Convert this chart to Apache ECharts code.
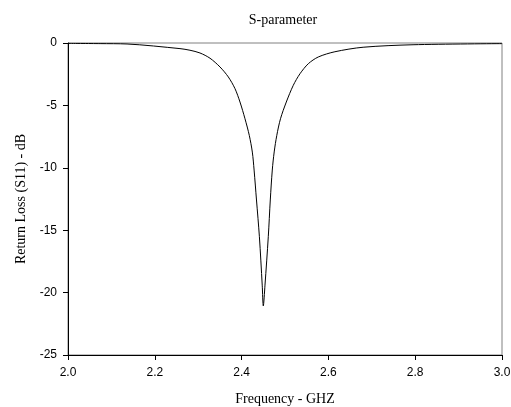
<!DOCTYPE html>
<html>
<head>
<meta charset="utf-8">
<script src="https://cdn.jsdelivr.net/npm/echarts@6/dist/echarts.min.js"></script>
<style>html,body{margin:0;padding:0;background:#fff}#c{width:511px;height:407px}</style>
</head>
<body>
<div id="c"></div>
<script>
var freq = [2.000, 2.074, 2.136, 2.258, 2.281, 2.3041, 2.3272, 2.3502, 2.3694, 2.3848, 2.3963, 2.4078, 2.4177, 2.4247, 2.4288, 2.4343, 2.441, 2.4475, 2.450, 2.4539, 2.4615, 2.4661, 2.4707, 2.4751, 2.4811, 2.4896, 2.5030, 2.5191, 2.5346, 2.5537, 2.5767, 2.615, 2.680, 2.795, 3.000];
var s11  = [-0.03, -0.05, -0.08, -0.45, -0.58, -0.80, -1.22, -1.92, -2.72, -3.66, -4.73, -6.07, -7.40, -8.74, -10.18, -12.58, -15.52, -19.4, -21.07, -19.4, -15.52, -12.58, -10.18, -8.73, -7.40, -6.07, -4.73, -3.39, -2.46, -1.66, -1.12, -0.70, -0.34, -0.14, -0.05];
var xTicks = [2.0, 2.2, 2.4, 2.6, 2.8, 3.0];
var yTicks = [0, -5, -10, -15, -20, -25];

var data = freq.map(function(f, i){ return [f, s11[i]]; });
var chart = echarts.init(document.getElementById('c'));
chart.setOption({
  animation: false,
  backgroundColor: '#fff',
  title: {
    text: 'S-parameter', left: 278, top: 8, textAlign: 'center',
    textStyle: {fontFamily: 'Liberation Serif', fontSize: 14, fontWeight: 'normal', color: '#000'}
  },
  grid: {left: 68, right: 9, top: 43, bottom: 52, show: true, borderColor: '#808080', borderWidth: 1,
    backgroundColor: 'transparent', containLabel: false, outerBoundsMode: 'none'},
  xAxis: {
    type: 'value', min: xTicks[0], max: xTicks[xTicks.length-1], interval: 0.2,
    name: 'Frequency - GHZ', nameLocation: 'middle', nameGap: 37,
    nameTextStyle: {fontFamily: 'Liberation Serif', fontSize: 14, color: '#000'},
    axisLine: {show: true, onZero: false, lineStyle: {color: '#000', width: 1}},
    axisTick: {show: true, length: 5, lineStyle: {color: '#000'}},
    axisLabel: {fontFamily: 'Liberation Sans', fontSize: 12, color: '#000', margin: 12,
      formatter: function(v){ return v.toFixed(1); }},
    splitLine: {show: false}
  },
  yAxis: {
    type: 'value', min: yTicks[yTicks.length-1], max: yTicks[0], interval: 5,
    name: 'Return Loss (S11) - dB', nameLocation: 'middle', nameGap: 36,
    nameTextStyle: {fontFamily: 'Liberation Serif', fontSize: 14, color: '#000'},
    axisLine: {show: true, onZero: false, lineStyle: {color: '#000', width: 1}},
    axisTick: {show: true, length: 5, lineStyle: {color: '#000'}},
    axisLabel: {fontFamily: 'Liberation Sans', fontSize: 12, color: '#000', margin: 11},
    splitLine: {show: false}
  },
  series: [{
    type: 'line', data: data, smooth: 0.3, showSymbol: false, symbol: 'none',
    lineStyle: {color: '#000', width: 1}, clip: true
  }]
});
</script>
</body>
</html>
